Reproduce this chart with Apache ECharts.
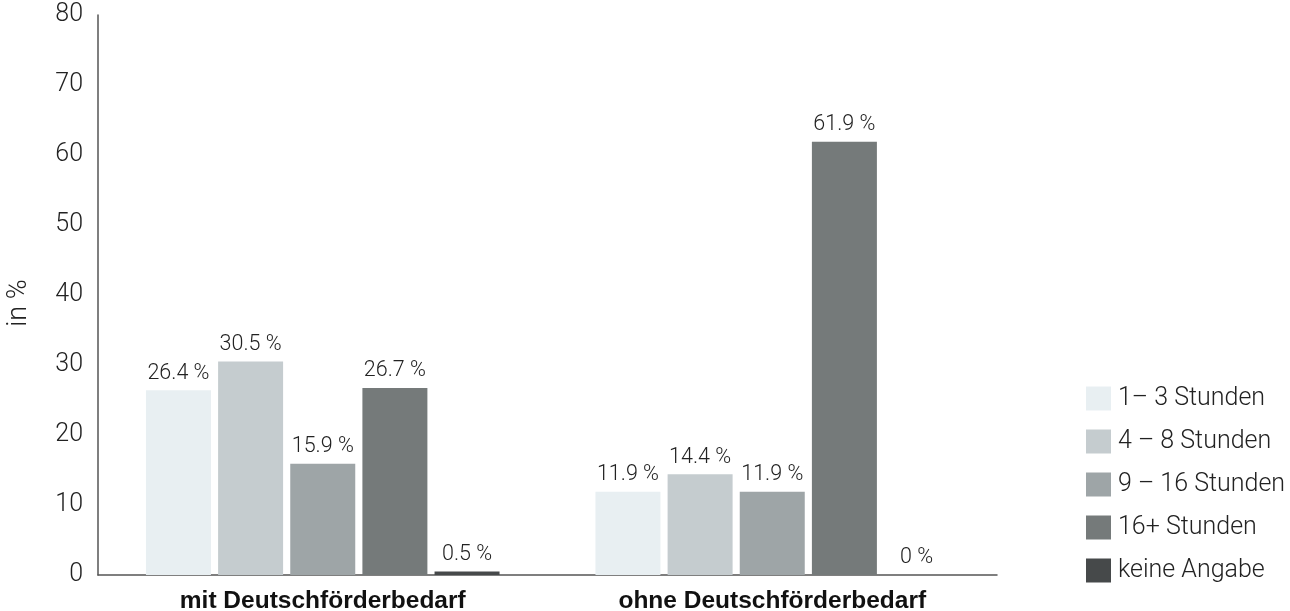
<!DOCTYPE html>
<html>
<head>
<meta charset="utf-8">
<script src="https://cdn.jsdelivr.net/npm/echarts@6/dist/echarts.min.js"></script>
<style>html,body{margin:0;padding:0;background:#fff}#c{width:1290px;height:611px}</style>
</head>
<body>
<div id="c"></div>
<script>
const categories = ['mit Deutschförderbedarf', 'ohne Deutschförderbedarf'];
const seriesNames = ['1– 3 Stunden', '4 – 8 Stunden', '9 – 16 Stunden', '16+ Stunden', 'keine Angabe'];
const s1 = [26.4, 11.9];
const s2 = [30.5, 14.4];
const s3 = [15.9, 11.9];
const s4 = [26.7, 61.9];
const s5 = [0.5, 0];
const colors = ['#e8eff2', '#c5cccf', '#9ea5a7', '#757a7a', '#46494a'];
const yTicks = [0, 10, 20, 30, 40, 50, 60, 70, 80];

const font = 'Roboto, Liberation Sans, Arial, sans-serif';
const data = [s1, s2, s3, s4, s5];
const chart = echarts.init(document.getElementById('c'));
chart.setOption({
  animation: false,
  textStyle: { fontFamily: font },
  grid: { left: 98, right: 293, top: 15, bottom: 36, containLabel: false, outerBoundsMode: 'none' },
  legend: {
    orient: 'vertical', left: 1081, top: 381,
    itemWidth: 25, itemHeight: 24, itemGap: 18,
    icon: 'rect',
    textStyle: { fontSize: 25, lineHeight: 24, fontWeight: 300, color: '#222', fontFamily: font, padding: [0, 0, 0, 2] },
    data: seriesNames
  },
  xAxis: {
    type: 'category', data: categories,
    axisLine: { lineStyle: { color: '#555', width: 1.5 } },
    axisTick: { show: false },
    axisLabel: { fontSize: 24.5, fontWeight: 'bold', color: '#111', margin: 14,
      fontFamily: 'Liberation Sans, Arial, sans-serif' }
  },
  yAxis: {
    type: 'value', min: 0, max: 80, interval: 10,
    name: 'in %', nameLocation: 'middle', nameGap: 65, nameRotate: 90,
    nameTextStyle: { fontSize: 27, fontWeight: 300, color: '#222', padding: [0, 16, 0, 0] },
    axisLine: { show: true, lineStyle: { color: '#555', width: 1.5 } },
    axisTick: { show: false },
    splitLine: { show: false },
    axisLabel: { fontSize: 25, fontWeight: 300, color: '#222', margin: 15,
      formatter: v => yTicks.includes(v) ? String(v) : '' }
  },
  series: data.map((d, i) => ({
    name: seriesNames[i], type: 'bar', data: d,
    barWidth: 65, barGap: '11%',
    itemStyle: { color: colors[i] },
    label: { show: true, position: 'top', distance: 6, fontSize: 21.5, fontWeight: 300, color: '#222',
      formatter: p => String(p.value) + ' %' }
  }))
});
</script>
</body>
</html>
